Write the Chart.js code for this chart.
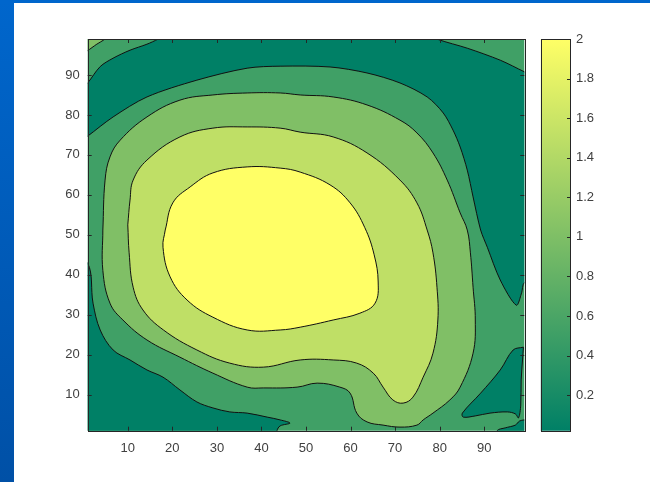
<!DOCTYPE html>
<html>
<head>
<meta charset="utf-8">
<script src="https://cdn.jsdelivr.net/npm/chart.js@4/dist/chart.umd.min.js"></script>
<style>
  html, body { margin: 0; padding: 0; background: #fff; }
  #page { position: relative; width: 650px; height: 482px; overflow: hidden; background: #fff; }
  #edgeLeft { position: absolute; left: 0; top: 0; width: 14px; height: 482px; background: linear-gradient(#0066cc, #0050a6); }
  #edgeTop { position: absolute; left: 0; top: 0; width: 650px; height: 3px; background: #0066cc; }
  canvas { position: absolute; left: 0; top: 0; }
</style>
</head>
<body>
<div id="page">
  <div id="edgeLeft"></div>
  <div id="edgeTop"></div>
  <canvas id="field" width="650" height="482"></canvas>
  <canvas id="scaleBar" width="650" height="482"></canvas>
</div>
<script>
// axis ticks
const xTicks = [10, 20, 30, 40, 50, 60, 70, 80, 90];
const yTicks = [10, 20, 30, 40, 50, 60, 70, 80, 90];
const barTicks = [0.2, 0.4, 0.6, 0.8, 1, 1.2, 1.4, 1.6, 1.8, 2];
const gridRange = [1, 99];
const valueRange = [0.02, 2];
// contour levels: 0.4, 0.8, 1.2, 1.6 -> five bands
const bandColors = ['rgb(0,128,102)', 'rgb(64,160,102)', 'rgb(128,191,102)', 'rgb(191,223,102)', 'rgb(255,255,102)'];

// band outlines as [x, y] in grid units (points past the frame are clipped)
const band1Field = [[-3, -3], [103, -3], [103, 103], [-3, 103]];

const band2CornerTL = [[-3, 93.6], [1, 96.1], [2.9, 97.6], [4.9, 99], [8.9, 103], [-3, 103]];

const band0Top = [
  [-3, 71.5], [1, 74.7], [6.7, 79.5], [14.3, 84.5], [25.5, 88.7], [36.8, 91.7], [44.2, 92.2],
  [55.4, 92.0], [63.7, 90.5], [71.1, 88.0], [77.2, 84.5], [80.8, 80.5], [83.0, 76.2], [84.6, 72.0],
  [86.2, 66.2], [87.5, 59.5], [89.2, 51.2], [90.7, 46.9], [93.6, 38.7], [97.2, 32.4], [98.4, 35.5],
  [99, 38], [103, 40], [103, 88.7], [99, 90.8], [93.6, 93.7], [86.2, 96.7], [79.6, 98.9], [70.3, 103],
  [22.6, 103], [16.8, 99], [14.3, 97.7], [10.5, 96.2], [6.7, 94.2], [3.8, 92.1], [1, 88.0], [-3, 83]
];

const band0BottomLeft = [
  [-3, 44], [1, 42.9], [2.2, 32.9], [3.8, 26.2], [6.7, 21.2], [10.5, 18.7], [14.3, 16.2],
  [17.9, 14.4], [21.7, 11.2], [25.5, 8.2], [29.1, 6.7], [32.9, 5.7], [36.8, 5.4], [41.3, 4.4],
  [44.2, 3.7], [46.4, 2.9], [44.2, 2.2], [43.5, 1], [43, -3], [-3, -3]
];

const band0BottomRight = [
  [98.8, 21.9], [96.5, 21.2], [93.6, 16.2], [89.2, 10.4], [85.1, 5.4], [85.3, 4.4], [88.0, 4.7],
  [91.3, 5.4], [95.2, 5.7], [97.0, 5.2], [97.7, 4.2], [98.2, 7.4], [98.3, 13.7], [98.6, 18.7]
];

const band0Corner = [[92.5, -3], [92.9, 1], [94.7, 1.7], [97.0, 2.4], [97.9, 3.4], [99, 3.7], [103, 4], [103, -3]];

const band2Ring = [
  [4.4, 51.2], [4.9, 63.7], [6.0, 69.5], [8.3, 73.7], [14.3, 79.5], [21.7, 83.7], [29.1, 85.0],
  [36.8, 85.5], [44.2, 85.5], [48.7, 85.0], [56.1, 84.5], [63.7, 82.5], [71.1, 78.7], [74.9, 75.5],
  [78.5, 70.5], [81.7, 63.7], [84.6, 55.5], [86.2, 51.2], [86.9, 45.5], [87.5, 36.9], [88.0, 28.7],
  [87.5, 20.4], [84.6, 11.9], [82.3, 8.7], [78.5, 5.4], [76.3, 3.7], [74.9, 2.4], [71.1, 1.9],
  [67.3, 2.4], [63.7, 3.2], [61.4, 5.4], [59.9, 10.4], [57.6, 11.9], [52.5, 12.9], [48.0, 11.9],
  [40.4, 11.7], [36.8, 11.9], [29.1, 15.4], [21.7, 19.4], [14.3, 23.7], [8.9, 28.7], [6.0, 32.9],
  [4.4, 41.1]
];

const band3Ring = [
  [10.0, 52.5], [10.5, 58.7], [11.2, 63.7], [14.3, 68.7], [21.7, 74.5], [29.1, 76.7], [36.8, 77.0],
  [44.2, 76.7], [48.7, 75.7], [56.1, 74.5], [63.7, 70.5], [71.1, 63.7], [74.9, 58.0], [77.2, 51.2],
  [78.5, 45.5], [79.4, 36.9], [79.6, 28.7], [78.5, 20.4], [76.3, 14.4], [74.0, 9.4], [71.8, 7.9],
  [69.5, 8.7], [67.3, 11.9], [65.1, 15.4], [61.4, 17.9], [56.1, 18.7], [48.7, 18.7], [40.4, 16.9],
  [32.9, 17.9], [25.5, 21.2], [18.0, 26.2], [13.4, 31.2], [11.2, 36.9], [10.3, 45.5]
];

const band4Peak = [
  [18.4, 51.2], [20.1, 58.0], [24.0, 62.0], [29.1, 65.5], [36.8, 67.0], [44.2, 66.7], [48.7, 65.7],
  [55.4, 62.5], [59.9, 58.0], [63.2, 51.8], [65.3, 45.0], [66.2, 38.2], [65.5, 32.9], [62.1, 30.4],
  [56.1, 28.7], [48.7, 26.9], [44.2, 26.2], [36.8, 26.2], [29.1, 29.4], [23.3, 33.7], [19.5, 39.5],
  [17.9, 46.9]
];

// painted bottom to top
const layers = [
  { pts: band1Field, band: 1, tension: 0, line: false },
  { pts: band2CornerTL, band: 2, tension: 0.2, line: true },
  { pts: band0Top, band: 0, tension: 0.3, line: true },
  { pts: band0BottomLeft, band: 0, tension: 0.35, line: true },
  { pts: band0BottomRight, band: 0, tension: 0.35, line: true },
  { pts: band0Corner, band: 0, tension: 0.3, line: true },
  { pts: band2Ring, band: 2, tension: 0.4, line: true },
  { pts: band3Ring, band: 3, tension: 0.4, line: true },
  { pts: band4Peak, band: 4, tension: 0.4, line: true }
];

const closeLoop = pts => pts.concat([pts[0]]).map(([x, y]) => ({ x, y }));

const datasets = layers.map((l, i) => ({
  data: closeLoop(l.pts),
  fill: 'shape',
  backgroundColor: bandColors[l.band],
  borderColor: l.line ? '#111' : 'rgba(0,0,0,0)',
  borderWidth: l.line ? 1 : 0,
  tension: l.tension,
  pointRadius: 0,
  order: 100 - i
}));

const axisFont = { family: "'Liberation Sans', Arial, sans-serif", size: 13 };
const axisInk = '#404040';

// frame box and inward tick marks
const frameBox = {
  id: 'frameBox',
  afterDatasetsDraw(chart) {
    const { ctx, chartArea: a, scales: { x, y } } = chart;
    ctx.save();
    ctx.strokeStyle = '#262626';
    ctx.lineWidth = 1;
    ctx.beginPath();
    xTicks.forEach(v => {
      const p = Math.round(x.getPixelForValue(v)) + 0.5;
      ctx.moveTo(p, a.bottom); ctx.lineTo(p, a.bottom - 4);
      ctx.moveTo(p, a.top); ctx.lineTo(p, a.top + 4);
    });
    yTicks.forEach(v => {
      const p = Math.round(y.getPixelForValue(v)) + 0.5;
      ctx.moveTo(a.left, p); ctx.lineTo(a.left + 4, p);
      ctx.moveTo(a.right, p); ctx.lineTo(a.right - 4, p);
    });
    ctx.stroke();
    ctx.strokeRect(Math.round(a.left) + 0.5, Math.round(a.top) + 0.5,
      Math.round(a.right - a.left), Math.round(a.bottom - a.top));
    ctx.restore();
  }
};

new Chart(document.getElementById('field'), {
  type: 'line',
  data: { datasets },
  options: {
    responsive: false,
    animation: false,
    devicePixelRatio: 1,
    layout: { padding: { left: 47.7, top: 39, right: 125.7, bottom: 21.3 } },
    plugins: { legend: { display: false }, tooltip: { enabled: false } },
    scales: {
      x: {
        type: 'linear', min: gridRange[0], max: gridRange[1],
        afterBuildTicks: s => { s.ticks = xTicks.map(v => ({ value: v })); },
        afterFit: s => { s.height = 30; },
        grid: { display: false, drawTicks: false },
        border: { display: false },
        ticks: { padding: 10, color: axisInk, font: axisFont, maxRotation: 0, autoSkip: false }
      },
      y: {
        type: 'linear', min: gridRange[0], max: gridRange[1],
        afterBuildTicks: s => { s.ticks = yTicks.map(v => ({ value: v })); },
        afterFit: s => { s.width = 40; },
        grid: { display: false, drawTicks: false },
        border: { display: false },
        ticks: { padding: 8, color: axisInk, font: axisFont, autoSkip: false }
      }
    }
  },
  plugins: [frameBox]
});

// colour bar
const barFrame = {
  id: 'barFrame',
  afterDatasetsDraw(chart) {
    const { ctx, chartArea: a, scales: { y } } = chart;
    ctx.save();
    ctx.strokeStyle = '#262626';
    ctx.lineWidth = 1;
    ctx.beginPath();
    barTicks.forEach(v => {
      const p = Math.round(y.getPixelForValue(v)) + 0.5;
      ctx.moveTo(a.right, p); ctx.lineTo(a.right - 3, p);
    });
    ctx.stroke();
    ctx.strokeRect(Math.round(a.left) + 0.5, Math.round(a.top) + 0.5,
      Math.round(a.right - a.left), Math.round(a.bottom - a.top));
    ctx.restore();
  }
};

new Chart(document.getElementById('scaleBar'), {
  type: 'bar',
  data: {
    labels: [''],
    datasets: [{
      data: [valueRange],
      backgroundColor: c => {
        const a = c.chart.chartArea;
        if (!a) return bandColors[0];
        const g = c.chart.ctx.createLinearGradient(0, a.bottom, 0, a.top);
        g.addColorStop(0, bandColors[0]);
        g.addColorStop(1, bandColors[4]);
        return g;
      },
      borderWidth: 0,
      barPercentage: 1,
      categoryPercentage: 1
    }]
  },
  options: {
    responsive: false,
    animation: false,
    devicePixelRatio: 1,
    layout: { padding: { left: 540.7, top: 39, right: 20, bottom: 51.3 } },
    plugins: { legend: { display: false }, tooltip: { enabled: false } },
    scales: {
      x: { display: false },
      y: {
        position: 'right', min: valueRange[0], max: valueRange[1],
        afterBuildTicks: s => { s.ticks = barTicks.map(v => ({ value: v })); },
        afterFit: s => { s.width = 60; },
        grid: { display: false, drawTicks: false },
        border: { display: false },
        ticks: { padding: 6, color: axisInk, font: axisFont, autoSkip: false, callback: v => String(+v.toFixed(1)) }
      }
    }
  },
  plugins: [barFrame]
});
</script>
</body>
</html>
